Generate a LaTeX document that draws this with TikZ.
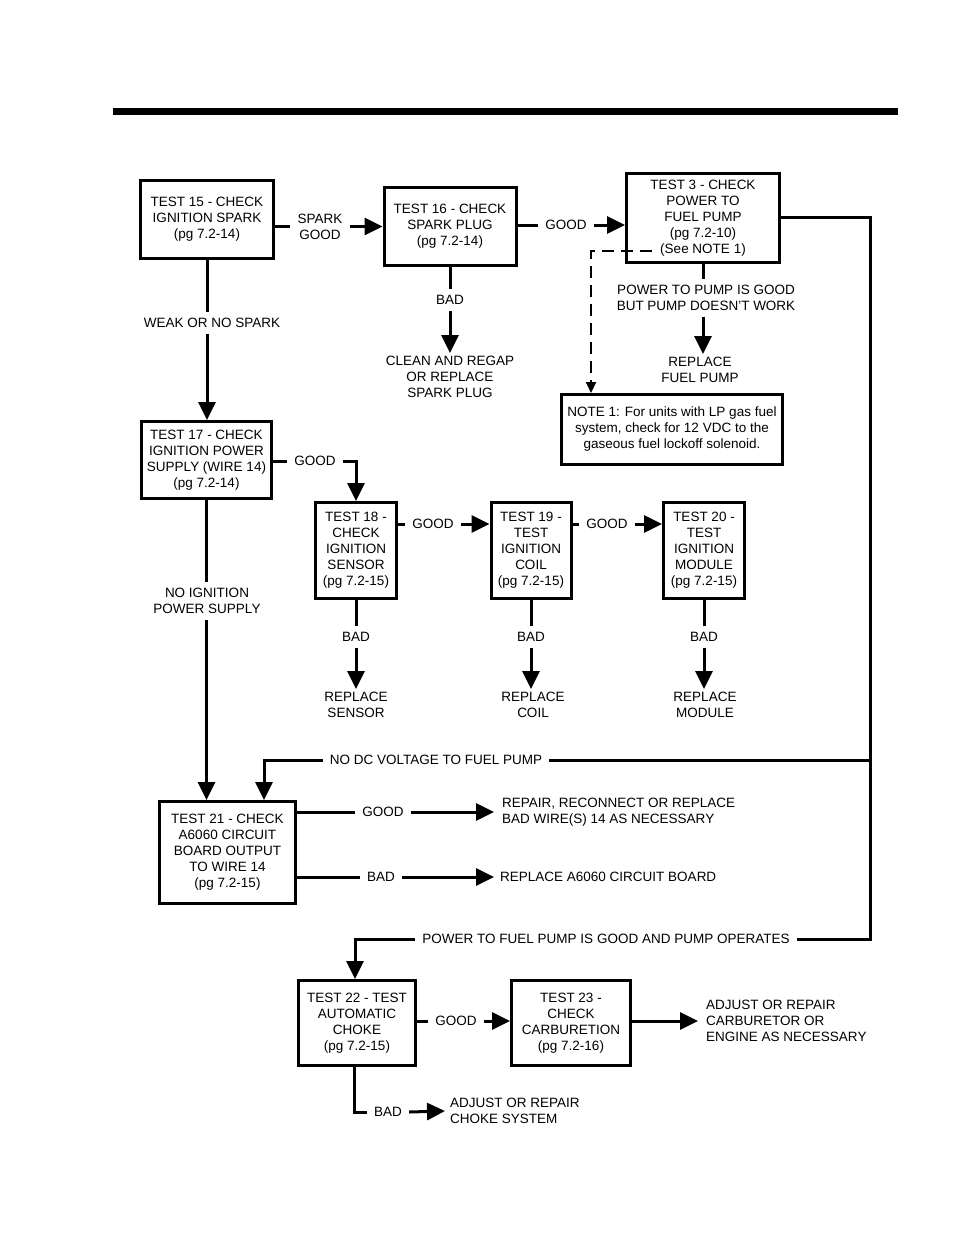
\documentclass[tikz,border=0pt]{standalone}
\usepackage{fontspec}
\setmainfont{Liberation Sans}
\usetikzlibrary{arrows.meta,calc}
\newcommand\myfs{\fontsize{13.5}{16}\selectfont}
\begin{document}
\begin{tikzpicture}[x=1pt,y=-1pt,
  box/.style={draw,line width=3pt,align=center,inner sep=0pt,font=\myfs},
  lbl/.style={align=center,inner xsep=7pt,inner ysep=6pt,font=\myfs},
  res/.style={align=center,inner sep=3pt,font=\myfs},
  resl/.style={align=left,inner sep=3pt,font=\myfs,anchor=west},
  ln/.style={line width=3pt},
  arr/.style={line width=3pt,-{Triangle[length=18pt,width=17pt]}},
  dsh/.style={line width=2pt,dash pattern=on 12pt off 7pt,-{Triangle[length=11pt,width=10pt]}},
]
\useasboundingbox (0,0) rectangle (954,1235);
\fill[white] (0,0) rectangle (954,1235);
\fill[black] (113,108) rectangle (898,115);

% boxes
\node[box,minimum width=133pt,minimum height=78pt] (t15) at (207,219.5) {TEST 15 - CHECK\\IGNITION SPARK\\(pg 7.2-14)};
\node[box,minimum width=132pt,minimum height=78pt] (t16) at (450,226.5) {TEST 16 - CHECK\\SPARK PLUG\\(pg 7.2-14)};
\node[box,minimum width=153pt,minimum height=89pt] (t3) at (703,218) {TEST 3 - CHECK\\POWER TO\\FUEL PUMP\\(pg 7.2-10)\\(See NOTE 1)};
\node[box,minimum width=221pt,minimum height=70pt] (note) at (672,429.5) {NOTE 1: For units with LP gas fuel\\system, check for 12 VDC to the\\gaseous fuel lockoff solenoid.};
\node[box,minimum width=130pt,minimum height=77pt] (t17) at (206.5,460) {TEST 17 - CHECK\\IGNITION POWER\\SUPPLY (WIRE 14)\\(pg 7.2-14)};
\node[box,minimum width=81pt,minimum height=96pt] (t18) at (356,550.5) {TEST 18 -\\CHECK\\IGNITION\\SENSOR\\(pg 7.2-15)};
\node[box,minimum width=80pt,minimum height=96pt] (t19) at (531,550.5) {TEST 19 -\\TEST\\IGNITION\\COIL\\(pg 7.2-15)};
\node[box,minimum width=81pt,minimum height=96pt] (t20) at (704,550.5) {TEST 20 -\\TEST\\IGNITION\\MODULE\\(pg 7.2-15)};
\node[box,minimum width=136pt,minimum height=102pt] (t21) at (227.5,852.5) {TEST 21 - CHECK\\A6060 CIRCUIT\\BOARD OUTPUT\\TO WIRE 14\\(pg 7.2-15)};
\node[box,minimum width=117pt,minimum height=85pt] (t22) at (357,1023) {TEST 22 - TEST\\AUTOMATIC\\CHOKE\\(pg 7.2-15)};
\node[box,minimum width=119pt,minimum height=85pt] (t23) at (571,1023) {TEST 23 -\\CHECK\\CARBURETION\\(pg 7.2-16)};

% labels
\node[lbl] (sg) at (320,226.5) {SPARK\\GOOD};
\node[lbl] (g16) at (566,225) {GOOD};
\node[lbl] (b16) at (450,300) {BAD};
\node[res] (clean) at (450,377) {CLEAN AND REGAP\\OR REPLACE\\SPARK PLUG};
\node[lbl] (pgood) at (706,298) {POWER TO PUMP IS GOOD\\BUT PUMP DOESN'T WORK};
\node[res] (rfp) at (700,370) {REPLACE\\FUEL PUMP};
\coordinate (dstart) at (652,251);
\coordinate (dcorner) at (591,251);

\node[lbl] (weak) at (212,323) {WEAK OR NO SPARK};
\node[lbl] (g17) at (315,461) {GOOD};
\node[lbl] (noign) at (207,601) {NO IGNITION\\POWER SUPPLY};
\node[lbl] (g18) at (433,524) {GOOD};
\node[lbl] (g19) at (607,524) {GOOD};
\node[lbl] (b18) at (356,637) {BAD};
\node[lbl] (b19) at (531,637) {BAD};
\node[lbl] (b20) at (704,637) {BAD};
\node[res] (rs) at (356,705) {REPLACE\\SENSOR};
\node[res] (rc) at (533,705) {REPLACE\\COIL};
\node[res] (rm) at (705,705) {REPLACE\\MODULE};

\node[lbl] (nodc) at (436,760) {NO DC VOLTAGE TO FUEL PUMP};
\coordinate (rt) at (870,217);
\coordinate (rdc) at (870,760);
\coordinate (rpw) at (870,939);
\coordinate (ldc) at (264,760);
\node[lbl] (g21) at (383,812) {GOOD};
\node[lbl] (b21) at (381,877) {BAD};
\node[resl,inner xsep=8pt] (rep) at (494,812) {REPAIR, RECONNECT OR REPLACE\\BAD WIRE(S) 14 AS NECESSARY};
\node[resl,inner xsep=6pt] (ra) at (494,877) {REPLACE A6060 CIRCUIT BOARD};

\node[lbl] (pwok) at (606,939) {POWER TO FUEL PUMP IS GOOD AND PUMP OPERATES};
\coordinate (lpw) at (355,939);
\node[lbl] (g22) at (456,1021) {GOOD};
\node[resl,inner xsep=8pt] (adj) at (698,1021) {ADJUST OR REPAIR\\CARBURETOR OR\\ENGINE AS NECESSARY};
\coordinate (bc) at (354,1112);
\node[lbl] (b22) at (388,1112) {BAD};
\node[resl,inner xsep=5pt] (ach) at (445,1111) {ADJUST OR REPAIR\\CHOKE SYSTEM};

% connectors
\draw[ln] (t15.east |- sg) -- (sg.west);
\draw[arr] (sg.east) -- (t16.west |- sg);
\draw[ln] (t16.east |- g16) -- (g16.west);
\draw[arr] (g16.east) -- (t3.west |- g16);
\draw[ln] (t16.south) -- (b16.north);
\draw[arr] (b16.south) -- (clean.north);
\draw[ln] (t3.south) -- (t3.south |- pgood.north);
\draw[arr] (t3.south |- pgood.south) -- (t3.south |- rfp.north);
\draw[dsh] (dstart) -- (dcorner) -- (dcorner |- note.north);

\draw[ln] (t15.south) -- (weak.north -| t15.south);
\draw[arr] (weak.south -| t15.south) -- (t17.north -| t15.south);
\draw[ln] (t17.east |- g17) -- (g17.west);
\draw[arr] (g17.east) -- (g17.east -| t18.north) -- (t18.north);
\draw[ln] (t17.south) -- (noign.north -| t17.south);
\draw[arr] (noign.south -| t17.south) -- (t21.north -| t17.south);
\draw[ln] (t18.east |- g18) -- (g18.west);
\draw[arr] (g18.east) -- (t19.west |- g18);
\draw[ln] (t19.east |- g19) -- (g19.west);
\draw[arr] (g19.east) -- (t20.west |- g19);
\draw[ln] (t18.south) -- (b18.north);
\draw[arr] (b18.south) -- (rs.north -| b18);
\draw[ln] (t19.south) -- (b19.north);
\draw[arr] (b19.south) -- (rc.north -| b19);
\draw[ln] (t20.south) -- (b20.north);
\draw[arr] (b20.south) -- (rm.north -| b20);

\draw[ln] (t3.east |- rt) -- (rt) -- (rpw) -- (pwok.east);
\draw[ln] (rdc) -- (nodc.east);
\draw[arr] (nodc.west) -- (ldc) -- (t21.north -| ldc);
\draw[ln] (t21.east |- g21) -- (g21.west);
\draw[arr] (g21.east) -- (rep.west);
\draw[ln] (t21.east |- b21) -- (b21.west);
\draw[arr] (b21.east) -- (ra.west);
\draw[arr] (pwok.west) -- (lpw) -- (t22.north -| lpw);

\draw[ln] (t22.east |- g22) -- (g22.west);
\draw[arr] (g22.east) -- (t23.west |- g22);
\draw[arr] (t23.east |- adj) -- (adj.west);
\draw[ln] (t22.south -| bc) -- (bc) -- (b22.west);
\draw[arr] (b22.east) -- (ach.west);
\end{tikzpicture}
\end{document}
